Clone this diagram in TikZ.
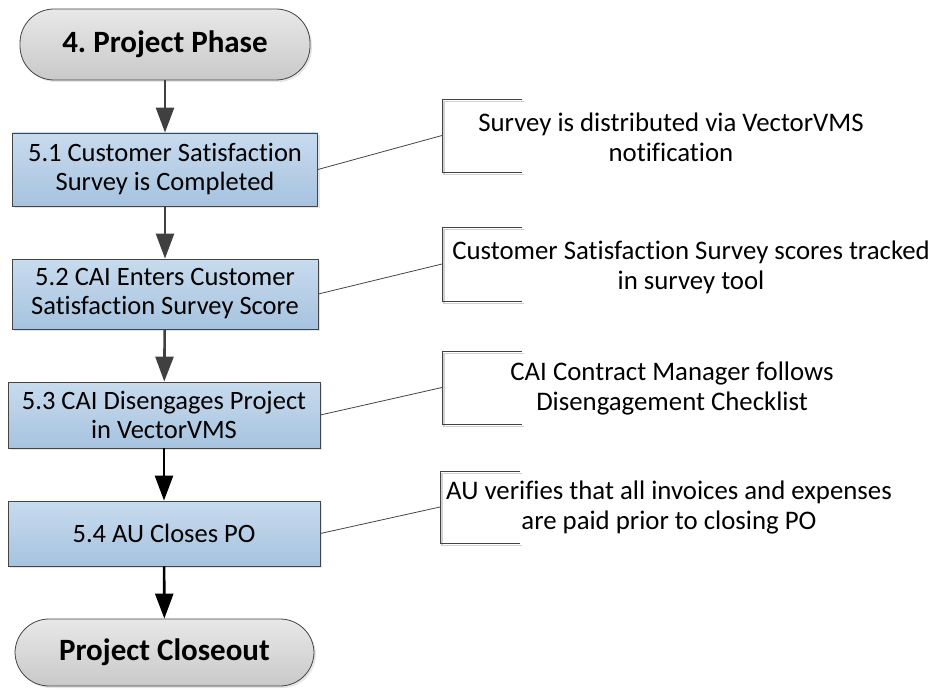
\documentclass[tikz,border=0pt]{standalone}
\usepackage{fontspec}
\setmainfont{Carlito}[Ligatures=NoCommon]
\usetikzlibrary{arrows.meta,shadows}
\definecolor{BoxTop}{HTML}{C8DBEE}
\definecolor{BoxBottom}{HTML}{A6C3DF}
\definecolor{TermTop}{HTML}{E8E8E8}
\definecolor{TermBottom}{HTML}{C9C9C9}
\definecolor{EdgeGray}{HTML}{444444}
\definecolor{ArrowGray}{HTML}{404040}
\frenchspacing

\begin{document}
\begin{tikzpicture}[x=1pt, y=-1pt,
  term/.style={draw=EdgeGray, line width=0.8pt, rounded corners=34pt,
    top color=TermTop, bottom color=TermBottom,
    drop shadow={shadow xshift=2pt, shadow yshift=-2pt, fill=black!20},
    font=\fontsize{31}{36}\selectfont\bfseries},
  stepbox/.style={draw=EdgeGray, line width=0.8pt,
    top color=BoxTop, bottom color=BoxBottom,
    drop shadow={shadow xshift=2pt, shadow yshift=-2pt, fill=black!20},
    align=center, font=\fontsize{26.5}{29}\selectfont},
  bracket/.style={minimum width=80pt, inner sep=0pt, outer sep=0pt},
  notetext/.style={align=center, font=\fontsize{26.8}{30}\selectfont},
  flow/.style={line width=2.6pt, -{Triangle[length=25pt,width=18pt]}},
  link/.style={line width=0.8pt, EdgeGray}]
\useasboundingbox (0,0) rectangle (935,690);
%
\node[term, minimum width=290pt, minimum height=71pt] (start) at (165,44.5) {4. Project Phase};
\node[stepbox, minimum width=305pt, minimum height=73pt] (s51) at (165,169.5) {5.1 Customer Satisfaction\\Survey is Completed};
\node[stepbox, minimum width=306pt, minimum height=70pt] (s52) at (165,294) {5.2 CAI Enters Customer\\Satisfaction Survey Score};
\node[stepbox, minimum width=312pt, minimum height=66pt] (s53) at (164,415) {5.3 CAI Disengages Project\\in VectorVMS};
\node[stepbox, minimum width=312pt, minimum height=65pt] (s54) at (164,533.5) {5.4 AU Closes PO};
\node[term, minimum width=299pt, minimum height=67pt] (stop) at (164.5,652.5) {Project Closeout};
%
\draw[flow, ArrowGray] (start) -- (s51);
\draw[flow, ArrowGray] (s51) -- (s52);
\draw[flow, ArrowGray] (s52) -- (s53);
\draw[flow, black] (s53) -- (s54);
\draw[flow, black] (s54) -- (stop);
%
\node[bracket, minimum height=73pt] (b1) at (482,135.5) {};
\node[bracket, minimum height=74pt] (b2) at (482,264) {};
\node[bracket, minimum height=73pt] (b3) at (482,387.5) {};
\node[bracket, minimum height=72pt] (b4) at (480,507) {};
\foreach \n in {1,...,4}{
  \draw[black!18, line width=1.6pt, transform canvas={shift={(2pt,-2.5pt)}}]
    (b\n.north east) -- (b\n.north west) -- (b\n.south west) -- (b\n.south east);
  \draw[link] (b\n.north east) -- (b\n.north west) -- (b\n.south west) -- (b\n.south east);
}
%
\node[notetext] (t1) at (671,137) {Survey is distributed via VectorVMS\\notification};
\node[notetext] (t2) at (691,267) {Customer Satisfaction Survey scores tracked\\in survey tool};
\node[notetext] (t3) at (672,388) {CAI Contract Manager follows\\Disengagement Checklist};
\node[notetext] (t4) at (669,507) {AU verifies that all invoices and expenses\\are paid prior to closing PO};
%
\draw[link] (s51.east) -- (b1.west);
\draw[link] (s52.east) -- (b2.west);
\draw[link] (s53.east) -- (b3.west);
\draw[link] (s54.east) -- (b4.west);
\end{tikzpicture}
\end{document}
